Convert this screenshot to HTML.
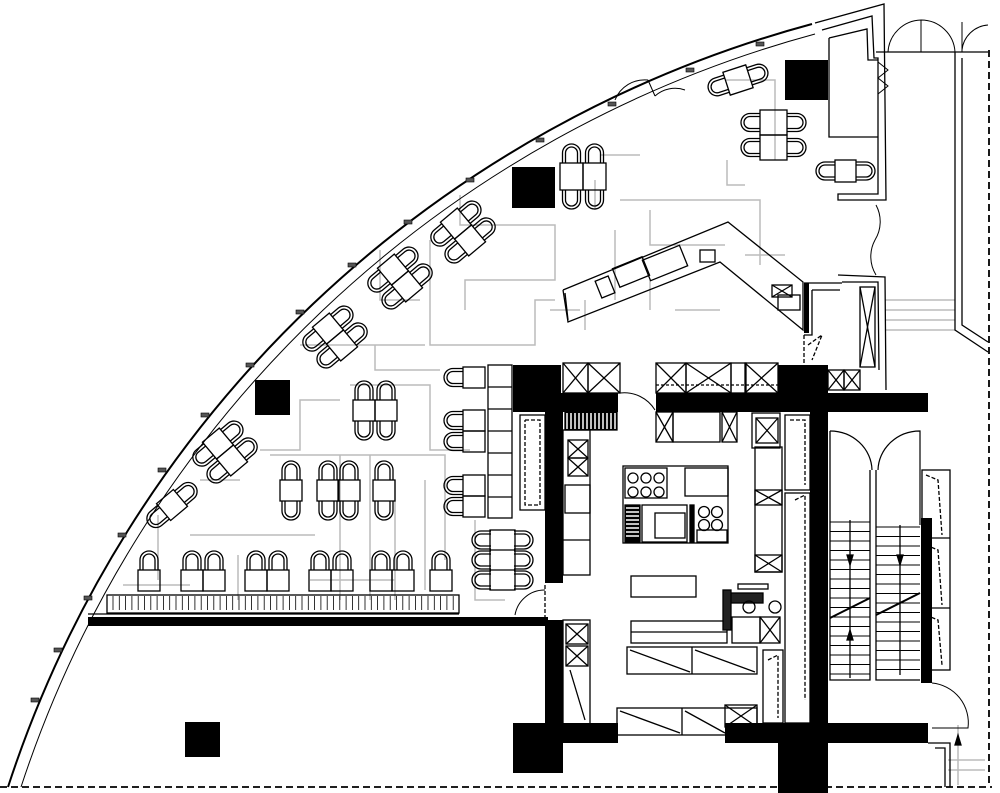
<!DOCTYPE html>
<html><head><meta charset="utf-8"><style>
html,body{margin:0;padding:0;background:#fff;width:1000px;height:793px;overflow:hidden}
svg{display:block}
</style></head><body>
<svg id="s" width="1000" height="793" viewBox="0 0 1000 793" xmlns="http://www.w3.org/2000/svg">
<g id="gray" fill="none" stroke="#bbb" stroke-width="1.5">
<polyline points="460,195 460,225 555,225 555,280 465,280 465,310"/>
<polyline points="430,240 430,345 535,345 535,300 555,300"/>
<polyline points="380,250 380,300 420,300"/>
<polyline points="300,345 425,345"/>
<polyline points="375,345 375,370 440,370"/>
<polyline points="350,385 430,385 430,450 470,450"/>
<polyline points="260,450 300,450 300,400 340,400"/>
<polyline points="200,480 240,480"/>
<polyline points="190,535 315,535"/>
<polyline points="270,455 445,455 445,560"/>
<polyline points="370,455 370,600"/>
<polyline points="340,455 340,600"/>
<polyline points="395,480 395,600"/>
<polyline points="158,515 158,580"/>
<polyline points="123,585 190,585"/>
<polyline points="238,555 238,600"/>
<polyline points="310,580 395,580"/>
<polyline points="425,480 425,590"/>
<polyline points="475,520 475,600 505,600"/>
<polyline points="600,155 640,155"/>
<polyline points="595,180 595,210"/>
<polyline points="620,200 760,200 760,265"/>
<polyline points="650,210 650,245 725,245"/>
<polyline points="615,230 615,300"/>
<polyline points="650,280 650,310"/>
<polyline points="675,310 720,310"/>
<polyline points="725,80 775,80 775,160"/>
<polyline points="727,160 727,185 745,185"/>
<polyline points="548,180 548,185"/>
<polyline points="585,300 585,330"/>
<polyline points="550,310 580,310"/>
<polyline points="745,255 785,255"/>
<polyline points="885,300 955,300"/><polyline points="885,310 955,310"/><polyline points="885,320 955,320"/><polyline points="885,330 955,330"/>
<polyline points="958,725 958,785"/><polyline points="948,760 985,760"/><polyline points="948,770 985,770"/>
</g>
<g id="main" fill="none" stroke="#000" stroke-width="1.3"></g>
</svg>
<script>
var m=document.getElementById('main');var h='';
function R(x,y,w,hh,extra){h+='<rect x="'+x+'" y="'+y+'" width="'+w+'" height="'+hh+'" '+(extra||'')+'/>';}
function B(x,y,w,hh){R(x,y,w,hh,'fill="#000" stroke="none"');}
function L(p,extra){h+='<polyline points="'+p+'" '+(extra||'')+'/>';}
function X(x,y,w,hh){R(x,y,w,hh);L(x+','+y+' '+(x+w)+','+(y+hh));L((x+w)+','+y+' '+x+','+(y+hh));}
var CH='<path d="M-9,10 L-9,0 A9,9 0 0 1 9,0 L9,10 M-6,10 L-6,0 A6,6 0 0 1 6,0 L6,10"/>';
function C(x,y,r){h+='<g transform="translate('+x+','+y+') rotate('+(r||0)+')">'+CH+'</g>';}
// arc window
h+='<path d="M8,787 A1164,1164 0 0 1 812,24" stroke-width="2"/>';
h+='<path d="M21,787 A1152,1152 0 0 1 815,34" stroke-width="1"/>';
// arc markers
[[35,700],[58,650],[88,598],[122,535],[162,470],[205,415],[250,365],[300,312],[352,265],[408,222],[470,180],[540,140],[612,104],[690,70],[760,44]].forEach(function(p){h+='<rect x="'+(p[0]-4)+'" y="'+(p[1]-2)+'" width="8" height="4" fill="#555" stroke="#000" stroke-width="0.6"/>';});
// dashed border
L('0,787 992,787','stroke-dasharray="7,4" stroke-width="1.8"');
L('989,50 989,787','stroke-dasharray="7,4" stroke-width="1.8"');
// black walls
B(88,617,460,9);
B(513,365,48,47);B(545,393,73,19);B(545,412,18,171);
B(656,393,272,19);B(778,365,50,47);B(810,412,18,380);
B(545,620,18,105);B(513,723,50,50);B(545,723,73,20);B(725,723,203,20);B(778,723,50,70);
B(921,518,11,165);
B(512,167,43,41);B(255,380,35,35);B(185,722,35,35);B(785,60,43,40);
// bench
R(107,595,352,18);var s='';for(var x=113;x<459;x+=6.3){s+='M'+x.toFixed(1)+',596 V610 ';}h+='<path d="'+s+'" stroke-width="0.8"/>';L('88,614 459,614');
// bottom row tables
[[138],[181,203],[245,267],[309,331],[370,392],[430]].forEach(function(g){g.forEach(function(x){R(x,570,22,21);C(x+11,560);});});
// middle tables
[[280],[317,338],[373]].forEach(function(g){g.forEach(function(x){R(x,480,22,21);C(x+11,470);C(x+11,511,180);});});
[353,375].forEach(function(x){R(x,400,22,21);C(x+11,390);C(x+11,431,180);});
// right column
[[367],[410,431],[475,496]].forEach(function(g){g.forEach(function(y){R(463,y,22,21);C(453,y+10.5,-90);});});
R(488,365,24,153);for(var y=387;y<518;y+=22)L('488,'+y+' 512,'+y);
R(490,530,25,60);L('490,550 515,550');L('490,570 515,570');
[540,560,580].forEach(function(y){C(481,y,-90);C(524,y,90);});
// door near kitchen
h+='<path d="M515,615 A30,30 0 0 1 545,590" stroke-width="1"/>';L('545,585 545,620','stroke-dasharray="4,2"');
// diagonal groups
function D(cx,cy,n){h+='<g transform="translate('+cx+','+cy+') rotate(50)">';var xs=n==2?[-22,0]:[-11];xs.forEach(function(x){h+='<rect x="'+x+'" y="-11" width="22" height="22"/>';h+='<g transform="translate('+(x+11)+',-21)">'+CH+'</g>';h+='<g transform="translate('+(x+11)+',21) rotate(180)">'+CH+'</g>';});h+='</g>';}
D(335,337,2);D(400,278,2);D(463,232,2);D(225,452,2);D(172,505,1);
// top tables
[560,583].forEach(function(x){R(x,163,23,27);C(x+11.5,153);C(x+11.5,200,180);});
[110,135].forEach(function(y){R(760,y,27,25);C(750,y+12.5,-90);C(797,y+12.5,90);});
R(835,160,21,22);C(825,171,-90);C(866,171,90);
h+='<g transform="translate(738,80) rotate(-18)"><rect x="-12" y="-12" width="24" height="24"/><g transform="translate(-22,0) rotate(-90)">'+CH+'</g><g transform="translate(22,0) rotate(90)">'+CH+'</g></g>';
// top doors along arc
h+='<path d="M615,100 A32,32 0 0 1 648,80 M648,80 L655,96 M655,96 A30,30 0 0 1 685,90" stroke-width="1"/>';
// top right room
L('815,23 884,4 886,200 838,200 838,194 843,194');
L('822,30 872,16 874,58 878,58 878,194 843,194');
L('829,38 867,29 868,60 878,60');L('829,38 829,137 878,137');
L('878,62 888,70 878,78 888,86 878,94','stroke-width="1"');
L('876,52 988,52');
h+='<path d="M888,52 A34,34 0 0 1 921,20 M955,52 A34,34 0 0 0 921,20 M921,20 V52" stroke-width="1"/>';
h+='<path d="M962,50 A28,28 0 0 1 988,25 M962,22 V52" stroke-width="1"/>';
L('955,52 955,330 988,352');L('962,58 962,325 988,342');
h+='<path d="M876,205 A35,35 0 0 1 875,240 A35,35 0 0 0 876,275" stroke-width="1"/>';
L('838,275 885,277 886,390');L('842,282 878,282 879,370');
L('804,283 842,283');B(804,283,5,50);
L('812,290 840,290');L('812,290 812,335 804,335');
X(860,287,15,80);
L('804,335 804,365','stroke-dasharray="4,2"');L('808,345 822,335 812,360','stroke-dasharray="4,2"');
X(828,370,16,20);X(844,370,16,20);
// bar counter
L('563,290 728,222 803,282 803,330 720,262 568,322 563,290');
L('568,320 565,293');
R(700,250,15,12);X(772,285,20,12);R(778,295,22,15);
R(615,262,32,20,'transform="rotate(-22 631 272)"');R(645,252,40,22,'transform="rotate(-22 665 263)"');R(598,278,14,18,'transform="rotate(-22 605 287)"');
// kitchen
X(563,363,25,30);X(588,363,32,30);
h+='<rect x="565" y="412" width="52" height="18" fill="#000"/>';var st='';for(var x=567;x<617;x+=4)st+='M'+x+',413 V429 ';h+='<path d="'+st+'" stroke="#fff" stroke-width="1.5"/>';
R(563,430,27,145);X(568,440,20,18);X(568,458,20,18);R(565,485,25,28);L('563,540 590,540');
R(520,415,25,95);L('525,420 540,420 540,505 525,505 525,420','stroke-dasharray="4,2"');
X(656,363,30,30);X(686,363,45,30);R(731,363,15,30);X(745,363,33,30);L('656,385 778,385','stroke-dasharray="3,2"');
X(656,412,17,30);R(673,412,47,30);X(722,412,15,30);
R(752,413,28,35);X(756,418,22,25);
R(755,447,27,125);X(755,490,27,15);X(755,555,27,17);
R(623,466,105,77);
[633,646,659].forEach(function(x){[478,492].forEach(function(y){h+='<circle cx="'+x+'" cy="'+y+'" r="5"/>';});});
R(625,468,42,30);R(685,468,43,28);
h+='<rect x="625" y="505" width="15" height="37" fill="#000"/>';var st2='';for(var y=508;y<540;y+=4)st2+='M626,'+y+' H639 ';h+='<path d="'+st2+'" stroke="#fff" stroke-width="1.5"/>';
R(642,505,45,37);R(655,513,30,25);R(690,505,4,37,'fill="#000"');
[704,717].forEach(function(x){[512,525].forEach(function(y){h+='<circle cx="'+x+'" cy="'+y+'" r="5.5"/>';});});R(697,530,30,12);
R(631,576,65,21);
R(631,621,96,22);L('631,632 727,632');
R(627,647,130,27);L('692,647 692,674');L('630,650 690,672');L('695,650 755,672');
R(728,593,35,10,'fill="#222"');R(738,584,30,5);R(723,590,8,40,'fill="#222"');
h+='<circle cx="749" cy="607" r="6"/><circle cx="775" cy="607" r="6"/>';
R(732,617,28,26);X(760,617,20,26);
R(617,708,140,27);L('682,708 682,735');L('620,711 680,733');L('685,711 725,733');X(725,705,32,22);
R(563,620,27,105);X(566,624,22,20);X(566,646,22,20);L('570,670 585,720');
R(785,415,25,75);L('790,420 805,420 805,485','stroke-dasharray="4,2"');
R(785,493,25,230);L('795,500 805,495 805,700','stroke-dasharray="4,2"');
R(763,650,20,73);L('768,660 778,655 778,718','stroke-dasharray="4,2"');
h+='<path d="M620,393 A36,36 0 0 1 655,410" stroke-width="1"/>';
// stairs
L('830,431 830,680 870,680 870,470');L('876,470 876,680 920,680');
h+='<path d="M830,431 A42,40 0 0 1 872,470 M878,470 A42,40 0 0 1 920,431 L920,525" stroke-width="1.2"/>';
var t='';for(var y=522;y<680;y+=9.5)t+='M830,'+y.toFixed(1)+' H870 ';for(var y=527;y<675;y+=9.5)t+='M876,'+y.toFixed(1)+' H920 ';h+='<path d="'+t+'" stroke-width="0.9"/>';
L('850,520 850,678');L('900,525 900,675');
h+='<path d="M847,555 L850,565 L853,555 Z M897,555 L900,565 L903,555 Z M847,640 L850,630 L853,640 Z" fill="#000"/>';
L('830,618 870,598','stroke-width="2"');L('876,615 920,593','stroke-width="2"');
R(922,470,28,200);L('922,538 950,538');L('922,608 950,608');
L('926,475 938,480 942,535','stroke-dasharray="4,2"');L('926,545 938,550 942,605','stroke-dasharray="4,2"');L('926,615 938,620 942,665','stroke-dasharray="4,2"');
h+='<path d="M932,683 A40,40 0 0 1 968,728 L932,728" stroke-width="1"/>';
L('928,743 950,743 950,787');L('935,748 945,748 945,787');
h+='<path d="M958,735 L955,745 L961,745 Z" fill="#000"/>';
m.innerHTML=h;
</script>
</body></html>
